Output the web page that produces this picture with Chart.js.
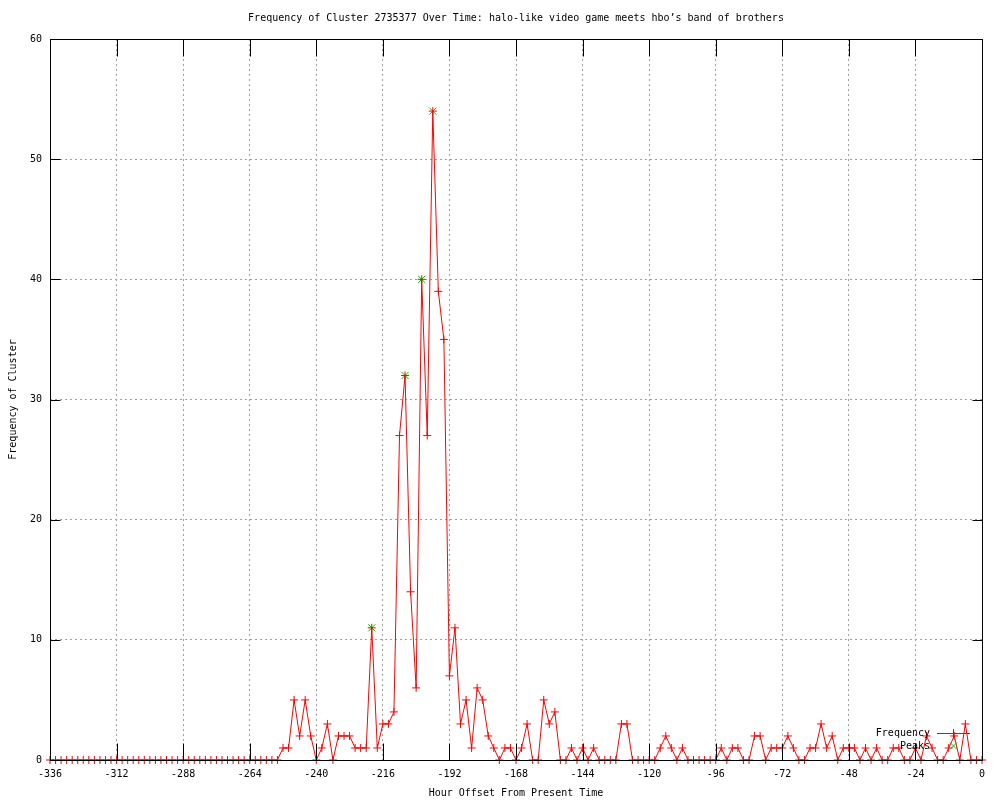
<!DOCTYPE html>
<html>
<head>
<meta charset="utf-8">
<title>Frequency of Cluster 2735377 Over Time</title>
<script src="https://cdn.jsdelivr.net/npm/chart.js@4.4.1/dist/chart.umd.min.js"></script>
<style>
  html, body { margin: 0; padding: 0; background: #fff; }
  #wrap { width: 1000px; height: 800px; }
</style>
</head>
<body>
<div id="wrap"><canvas id="chart" width="1000" height="800"></canvas></div>
<script>
// Cluster frequency over the last two weeks, one sample every 2 hours

const titleText = 'Frequency of Cluster 2735377 Over Time: halo-like video game meets hbo’s band of brothers';
const xTitle = 'Hour Offset From Present Time';
const yTitle = 'Frequency of Cluster';

const startHour = -336;
const stepHours = 2;

// one value per 2-hour bucket, from -336 up to 0
const frequency = [
    0, 0, 0, 0, 0, 0, 0, 0, 0, 0, 0, 0,
    0, 0, 0, 0, 0, 0, 0, 0, 0, 0, 0, 0,
    0, 0, 0, 0, 0, 0, 0, 0, 0, 0, 0, 0,
    0, 0, 0, 0, 0, 0, 1, 1, 5, 2, 5, 2,
    0, 1, 3, 0, 2, 2, 2, 1, 1, 1, 11, 1,
    3, 3, 4, 27, 32, 14, 6, 40, 27, 54, 39, 35,
    7, 11, 3, 5, 1, 6, 5, 2, 1, 0, 1, 1,
    0, 1, 3, 0, 0, 5, 3, 4, 0, 0, 1, 0,
    1, 0, 1, 0, 0, 0, 0, 3, 3, 0, 0, 0,
    0, 0, 1, 2, 1, 0, 1, 0, 0, 0, 0, 0,
    0, 1, 0, 1, 1, 0, 0, 2, 2, 0, 1, 1,
    1, 2, 1, 0, 0, 1, 1, 3, 1, 2, 0, 1,
    1, 1, 0, 1, 0, 1, 0, 0, 1, 1, 0, 0,
    1, 0, 2, 1, 0, 0, 1, 2, 0, 3, 0, 0,
    0
];

const peakHours = [-220, -208, -202, -198];
const peakValues = [11, 32, 40, 54];

const xMin = -336, xMax = 0, xStep = 24;
const yMin = 0, yMax = 60, yStep = 10;

const hours = frequency.map((v, i) => startHour + i * stepHours);

const RED = '#ff0000';
const GREEN = '#00c000';
const FONT = '"DejaVu Sans Mono", "Liberation Mono", monospace';

Chart.defaults.font.family = FONT;
Chart.defaults.font.size = 10;
Chart.defaults.color = '#000';

// gnuplot look: inward tics on all sides, solid border, legend in the corner
const gnuplotFrame = {
    id: 'gnuplotFrame',
    afterDatasetsDraw: function (chart) {
        const ctx = chart.ctx;
        const a = chart.chartArea;
        const xs = chart.scales.x, ys = chart.scales.y;
        const L = Math.round(a.left) + 0.5, R = Math.round(a.right) + 0.5;
        const T = Math.round(a.top) + 0.5, B = Math.round(a.bottom) + 0.5;

        ctx.save();
        ctx.strokeStyle = '#000';
        ctx.lineWidth = 1;
        ctx.beginPath();
        xs.ticks.forEach(t => {
            const px = Math.round(xs.getPixelForValue(t.value)) + 0.5;
            ctx.moveTo(px, B); ctx.lineTo(px, B - 17);
            ctx.moveTo(px, T); ctx.lineTo(px, T + 17);
        });
        ys.ticks.forEach(t => {
            const py = Math.round(ys.getPixelForValue(t.value)) + 0.5;
            ctx.moveTo(L, py); ctx.lineTo(L + 10, py);
            ctx.moveTo(R, py); ctx.lineTo(R - 10, py);
        });
        ctx.stroke();
        ctx.strokeRect(L, T, R - L, B - T);

        // legend
        const ds = chart.data.datasets;
        ctx.font = '10px ' + FONT;
        ctx.fillStyle = '#000';
        ctx.textAlign = 'right';
        ctx.textBaseline = 'middle';
        ctx.fillText(ds[0].label, 930, 733);
        ctx.fillText(ds[1].label, 930, 746);

        ctx.strokeStyle = RED;
        ctx.beginPath();
        ctx.moveTo(937, 733.5); ctx.lineTo(970, 733.5);
        ctx.moveTo(953.5, 729); ctx.lineTo(953.5, 738);
        ctx.stroke();

        ctx.strokeStyle = GREEN;
        ctx.beginPath();
        ctx.moveTo(950, 742.5); ctx.lineTo(957, 749.5);
        ctx.moveTo(957, 742.5); ctx.lineTo(950, 749.5);
        ctx.stroke();
        ctx.restore();
    },
    afterDraw: function (chart) {
        const ctx = chart.ctx;
        const a = chart.chartArea;
        ctx.save();
        ctx.font = '10px ' + FONT;
        ctx.fillStyle = '#000';
        ctx.textAlign = 'center';
        ctx.textBaseline = 'middle';
        ctx.fillText(titleText, (a.left + a.right) / 2, 18);
        ctx.restore();
    }
};

new Chart(document.getElementById('chart'), {
    type: 'line',
    data: {
        datasets: [{
            label: 'Frequency',
            data: hours.map((h, i) => ({ x: h, y: frequency[i] })),
            borderColor: RED,
            backgroundColor: RED,
            borderWidth: 1,
            tension: 0,
            pointStyle: 'cross',
            pointRadius: 4,
            pointBorderWidth: 1,
            pointBorderColor: RED,
            clip: false
        }, {
            label: 'Peaks',
            data: peakHours.map((h, i) => ({ x: h, y: peakValues[i] })),
            showLine: false,
            borderColor: GREEN,
            backgroundColor: GREEN,
            pointStyle: 'crossRot',
            pointRadius: 5,
            pointBorderWidth: 1,
            pointBorderColor: GREEN,
            clip: false
        }]
    },
    options: {
        responsive: false,
        animation: false,
        devicePixelRatio: 1,
        layout: {
            padding: { top: 39, right: 18, left: 0, bottom: 0 }
        },
        plugins: {
            legend: { display: false },
            title: { display: false },
            tooltip: { enabled: false }
        },
        scales: {
            x: {
                type: 'linear',
                min: xMin,
                max: xMax,
                afterFit: function (scale) { scale.height = 40; },
                ticks: {
                    stepSize: xStep,
                    padding: 8,
                    maxRotation: 0,
                    autoSkip: false,
                    callback: v => String(v)
                },
                grid: {
                    color: '#a0a0a0',
                    lineWidth: 1,
                    drawTicks: false
                },
                border: { display: false, dash: [2, 3] },
                title: {
                    display: true,
                    text: xTitle,
                    padding: { top: 0, bottom: 1 }
                }
            },
            y: {
                min: yMin,
                max: yMax,
                afterFit: function (scale) { scale.width = 50; },
                ticks: {
                    stepSize: yStep,
                    padding: 8,
                    callback: v => String(v)
                },
                grid: {
                    color: '#a0a0a0',
                    lineWidth: 1,
                    drawTicks: false
                },
                border: { display: false, dash: [2, 3] },
                title: {
                    display: true,
                    text: yTitle,
                    padding: { top: 7, bottom: 0 }
                }
            }
        }
    },
    plugins: [gnuplotFrame]
});
</script>
</body>
</html>
